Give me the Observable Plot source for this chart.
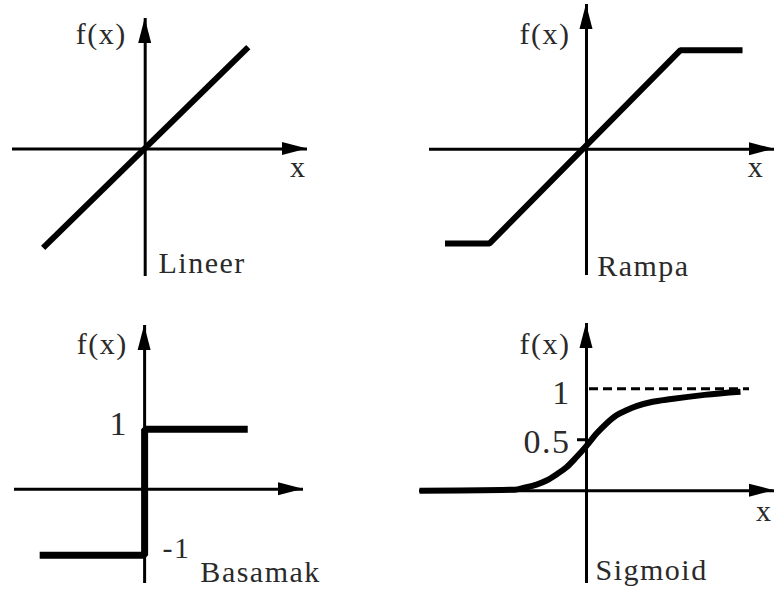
<!DOCTYPE html>
<html><head><meta charset="utf-8">
<script src="https://cdn.jsdelivr.net/npm/d3@7"></script>
<script src="https://cdn.jsdelivr.net/npm/@observablehq/plot@0.6"></script>
<style>
html,body{margin:0;padding:0;background:#fff;}
#wrap{position:relative;width:774px;height:596px;overflow:hidden;background:#fff;}
#wrap svg{position:absolute;}
#wrap svg text{letter-spacing:1.5px;font-family:'Liberation Serif','Times New Roman',serif;}
</style></head><body><div id="wrap"></div>
<script>
// ---- data ----
const linX = [-1.0, 1.01];
const linY = [-0.97, 1.0];

const rampX = [-1.46, -1.0, 0.97, 1.61];
const rampY = [-0.97, -0.97, 1.02, 1.02];

const stepX = [-1.75, 0, 0, 1.72];
const stepY = [-1.1, -1.1, 1, 1];

const sigX = [-1.67, -0.72, -0.62, -0.5, -0.4, -0.3, -0.2, -0.1, 0.0, 0.1, 0.2, 0.3, 0.4, 0.5, 0.65, 0.85, 1.18, 1.54];
const sigY = [0, 0.01, 0.03, 0.06, 0.10, 0.16, 0.23, 0.33, 0.44, 0.56, 0.66, 0.74, 0.79, 0.83, 0.87, 0.90, 0.94, 0.97];
const sigAsymptote = 1;
const sigHalf = 0.5;

const titles = ["Lineer", "Rampa", "Basamak", "Sigmoid"];
const yLabel = "f(x)";
const xLabel = "x";
const stepLabels = ["1", "-1"];
const sigLabels = ["1", "0.5"];

// ---- layout ----
const W = 387, H = 298;
const FONT = "'Liberation Serif', 'Times New Roman', serif";
const panels = [
  {left:0,   top:0,   m:{t:18, r:80, b:22, l:12}, xd:[-1.30, 1.59], yd:[-1.25, 1.28]},
  {left:387, top:0,   m:{t:4,  r:0,  b:23, l:42}, xd:[-1.62, 1.94], yd:[-1.30, 1.49]},
  {left:0,   top:298, m:{t:27, r:84, b:13, l:14}, xd:[-2.17, 2.65], yd:[-1.57, 2.73]},
  {left:387, top:298, m:{t:25, r:0,  b:13, l:32}, xd:[-1.67, 1.88], yd:[-0.91, 1.64]}
];

function axisMarks(p) {
  const ux = (W - p.m.l - p.m.r) / (p.xd[1] - p.xd[0]);
  const uy = (H - p.m.t - p.m.b) / (p.yd[1] - p.yd[0]);
  const L = 25, hw = 6.5;
  const hx = [{x: p.xd[1] - L / ux, y1: -hw / uy, y2: hw / uy}, {x: p.xd[1], y1: 0, y2: 0}];
  const vy = [{y: p.yd[1] - L / uy, x1: -hw / ux, x2: hw / ux}, {y: p.yd[1], x1: 0, x2: 0}];
  return [
    Plot.ruleY([0], {stroke: "#000", strokeWidth: 3}),
    Plot.ruleX([0], {stroke: "#000", strokeWidth: 3}),
    Plot.areaY(hx, {x: "x", y1: "y1", y2: "y2", fill: "#000"}),
    Plot.areaX(vy, {y: "y", x1: "x1", x2: "x2", fill: "#000"})
  ];
}

function label(t, x, y, size, anchor) {
  return Plot.text([{t, x, y}], {x: "x", y: "y", text: "t", fontSize: size, textAnchor: anchor,
    lineAnchor: "bottom", fontFamily: FONT, fill: "#2a2a2a"});
}

function make(p, marks) {
  const svg = Plot.plot({
    width: W, height: H,
    marginTop: p.m.t, marginRight: p.m.r, marginBottom: p.m.b, marginLeft: p.m.l,
    x: {domain: p.xd, axis: null},
    y: {domain: p.yd, axis: null},
    style: {background: "#fff", overflow: "hidden"},
    marks: [...axisMarks(p), ...marks]
  });
  svg.style.left = p.left + "px";
  svg.style.top = p.top + "px";
  document.getElementById("wrap").appendChild(svg);
}

const lw = 6;
const pts = (xs, ys) => xs.map((x, i) => ({x, y: ys[i]}));

// Lineer
make(panels[0], [
  Plot.line(pts(linX, linY), {x: "x", y: "y", stroke: "#000", strokeWidth: lw, strokeLinecap: "butt"}),
  label(yLabel, -0.18, 1.03, 30, "end"),
  label(xLabel, 1.50, -0.27, 30, "middle"),
  label(titles[0], 0.13, -1.22, 30, "start")
]);

// Rampa
make(panels[1], [
  Plot.line(pts(rampX, rampY), {x: "x", y: "y", stroke: "#000", strokeWidth: lw, strokeLinecap: "butt", strokeLinejoin: "miter"}),
  label(yLabel, -0.165, 1.08, 30, "end"),
  label(xLabel, 1.75, -0.29, 30, "middle"),
  label(titles[1], 0.11, -1.30, 30, "start")
]);

// Basamak
make(panels[2], [
  Plot.line(pts(stepX, stepY), {x: "x", y: "y", stroke: "#000", strokeWidth: 7, strokeLinecap: "butt", strokeLinejoin: "miter"}),
  label(yLabel, -0.28, 2.26, 30, "end"),
  label(stepLabels[0], -0.43, 0.9, 34, "middle"),
  label(stepLabels[1], 0.3, -1.15, 30, "start"),
  label(titles[2], 0.93, -1.55, 30, "start")
]);

// Sigmoid
make(panels[3], [
  Plot.ruleY([sigAsymptote], {x1: 0.03, x2: 1.63, stroke: "#000", strokeWidth: 3, strokeDasharray: "9,5"}),
  Plot.ruleY([sigHalf], {x1: -0.09, x2: 0, stroke: "#000", strokeWidth: 3}),
  Plot.line(pts(sigX, sigY), {x: "x", y: "y", stroke: "#000", strokeWidth: lw, curve: "monotone-x", strokeLinecap: "butt"}),
  label(yLabel, -0.16, 1.34, 30, "end"),
  label(sigLabels[0], -0.25, 0.85, 34, "middle"),
  label(sigLabels[1], -0.395, 0.37, 34, "middle"),
  label(xLabel, 1.86, -0.30, 30, "end"),
  label(titles[3], 0.09, -0.88, 30, "start")
]);
</script></body></html>
